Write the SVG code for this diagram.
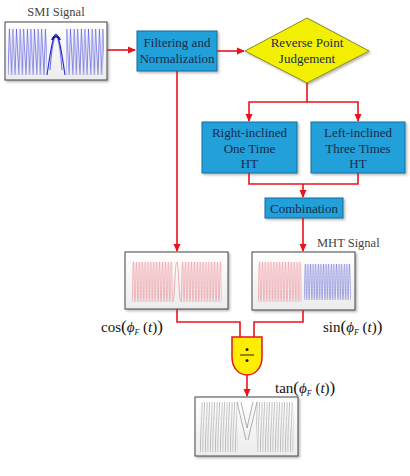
<svg xmlns="http://www.w3.org/2000/svg" width="410" height="476" viewBox="0 0 410 476">
<style>
.box{fill:#22a0da;stroke:#136d9a;stroke-width:1}
.wbox{fill:url(#wg);stroke:#444;stroke-width:1}
.t{font-family:"Liberation Serif",serif;font-size:13px;fill:#1b2b4b;text-anchor:middle}
.lab{font-family:"Liberation Serif",serif;font-size:12.5px;fill:#444}
.math{font-family:"Liberation Serif",serif;font-size:15px;fill:#111}
.con{fill:none;stroke:#e8141c;stroke-width:1.6}
</style>
<defs>
<marker id="ah" markerWidth="8" markerHeight="8" refX="7" refY="4" orient="auto" markerUnits="userSpaceOnUse">
<path d="M0,0.5 L8,4 L0,7.5 Z" fill="#e8141c"/>
</marker>
<filter id="sh" x="-10%" y="-10%" width="125%" height="130%">
<feDropShadow dx="1.5" dy="1.5" stdDeviation="1" flood-color="#000" flood-opacity="0.3"/>
</filter>
<linearGradient id="wg" x1="0" y1="0" x2="0" y2="1">
<stop offset="0" stop-color="#ffffff"/><stop offset="1" stop-color="#ececec"/>
</linearGradient>
<pattern id="pSmi" x="8" y="27" width="3.6" height="50" patternUnits="userSpaceOnUse">
<path d="M0,48 L1.3,2 L3.6,48" fill="none" stroke="#3a3ae0" stroke-width="0.6"/>
</pattern>
<pattern id="pRed" x="132" y="261" width="2.9" height="42" patternUnits="userSpaceOnUse">
<path d="M0,41 C0.72,41 0.72,1 1.45,1 C2.17,1 2.17,41 2.9,41" fill="none" stroke="#e8606e" stroke-width="0.45"/>
</pattern>
<pattern id="pRed2" x="258" y="261" width="2.9" height="42" patternUnits="userSpaceOnUse">
<path d="M0,41 C0.72,41 0.72,1 1.45,1 C2.17,1 2.17,41 2.9,41" fill="none" stroke="#e8606e" stroke-width="0.45"/>
</pattern>
<pattern id="pBlue" x="304" y="263" width="2.6" height="38" patternUnits="userSpaceOnUse">
<path d="M0,37 C0.65,37 0.65,1 1.3,1 C1.95,1 1.95,37 2.6,37" fill="none" stroke="#4040d0" stroke-width="0.45"/>
</pattern>
<pattern id="pTan" x="200" y="402" width="2.5" height="50" patternUnits="userSpaceOnUse">
<path d="M0.2,50 C0.6,30 1.4,20 2.2,0" fill="none" stroke="#808080" stroke-width="0.5"/>
</pattern>
</defs>

<g id="smi-signal">
<text class="lab" x="56" y="16" text-anchor="middle">SMI Signal</text>
<rect class="wbox" x="5" y="22" width="102" height="58" filter="url(#sh)"/>
<rect x="8" y="27" width="39" height="50" fill="url(#pSmi)"/>
<rect x="66" y="27" width="38" height="50" fill="url(#pSmi)"/>
<path d="M47,75 C50,55 53,34 56,34 C59,34 62,55 65,75" fill="none" stroke="#2a2ad0" stroke-width="1.1"/>
<path d="M50,70 C52,45 54,37 56,37 C58,37 60,45 62,70" fill="none" stroke="#2a2ad0" stroke-width="0.7"/>
<path d="M52,40 C54,35 58,35 60,40" fill="none" stroke="#1a1aa0" stroke-width="2"/>
</g>

<g id="filter">
<rect class="box" x="137" y="31" width="80" height="40" filter="url(#sh)"/>
<text class="t" x="177" y="47">Filtering and</text>
<text class="t" x="177" y="63">Normalization</text>
</g>

<g id="reverse">
<path d="M245,51 L307,18 L369,51 L307,83 Z" fill="#f2f000" stroke="#8a8a20" stroke-width="1" filter="url(#sh)"/>
<text class="t" x="307" y="47">Reverse Point</text>
<text class="t" x="307" y="63">Judgement</text>
</g>

<g id="right-ht">
<rect class="box" x="202" y="122" width="95" height="51" filter="url(#sh)"/>
<text class="t" x="249.5" y="137">Right-inclined</text>
<text class="t" x="249.5" y="153">One Time</text>
<text class="t" x="249.5" y="168">HT</text>
</g>

<g id="left-ht">
<rect class="box" x="311" y="122" width="94" height="51" filter="url(#sh)"/>
<text class="t" x="358" y="137">Left-inclined</text>
<text class="t" x="358" y="153">Three Times</text>
<text class="t" x="358" y="168">HT</text>
</g>

<g id="combination">
<rect class="box" x="265" y="198" width="78" height="20" filter="url(#sh)"/>
<text class="t" x="304" y="212.5">Combination</text>
</g>

<g id="cos-signal">
<rect class="wbox" x="125" y="252" width="103" height="57" filter="url(#sh)"/>
<rect x="132" y="261" width="40.6" height="42" fill="url(#pRed)"/>
<path d="M172.6,302 C174.8,302 174.8,262 176.8,262 C178.8,262 178.8,302 181,302" fill="none" stroke="#e8606e" stroke-width="0.5"/>
<rect x="181" y="261" width="40.6" height="42" fill="url(#pRed)"/>
<text class="math" x="101" y="332">cos<tspan font-size="17">(</tspan><tspan font-style="italic">ϕ</tspan><tspan font-size="8" dy="3" font-style="italic">F</tspan><tspan dy="-3"> (</tspan><tspan font-style="italic">t</tspan>)<tspan font-size="17">)</tspan></text>
</g>

<g id="mht-signal">
<text class="lab" x="317" y="247">MHT Signal</text>
<rect class="wbox" x="252" y="252" width="103" height="58" filter="url(#sh)"/>
<rect x="258" y="261" width="43.5" height="42" fill="url(#pRed2)"/>
<rect x="304" y="263" width="46.8" height="38" fill="url(#pBlue)"/>
<text class="math" x="323" y="332">sin<tspan font-size="17">(</tspan><tspan font-style="italic">ϕ</tspan><tspan font-size="8" dy="3" font-style="italic">F</tspan><tspan dy="-3"> (</tspan><tspan font-style="italic">t</tspan>)<tspan font-size="17">)</tspan></text>
</g>

<g id="divide">
<path d="M232,337 H262 V357 C262,368 255,375 247,375 C239,375 232,368 232,357 Z" fill="#ffee00" stroke="#e8141c" stroke-width="1.5"/>
<line x1="240" y1="355" x2="254" y2="355" stroke="#222" stroke-width="1"/>
<circle cx="247" cy="349.5" r="1.5" fill="#222"/>
<circle cx="247" cy="360.5" r="1.5" fill="#222"/>
</g>

<g id="tan-signal">
<text class="math" x="275" y="393">tan<tspan font-size="17">(</tspan><tspan font-style="italic">ϕ</tspan><tspan font-size="8" dy="3" font-style="italic">F</tspan><tspan dy="-3"> (</tspan><tspan font-style="italic">t</tspan>)<tspan font-size="17">)</tspan></text>
<rect class="wbox" x="195" y="397" width="103" height="59" filter="url(#sh)"/>
<rect x="200" y="402" width="37.5" height="50" fill="url(#pTan)"/>
<rect x="256" y="402" width="37.5" height="50" fill="url(#pTan)"/>
<path d="M237,402 L246,440 M241,402 L247,428 L253,402 M257,402 L248,440" fill="none" stroke="#808080" stroke-width="0.6"/>
</g>

<g id="connectors">
<path class="con" d="M107,50 H135" marker-end="url(#ah)"/>
<path class="con" d="M217,51 H244" marker-end="url(#ah)"/>
<path class="con" d="M307,83 V102 H249 V121" marker-end="url(#ah)"/>
<path class="con" d="M307,102 H358 V121" marker-end="url(#ah)"/>
<path class="con" d="M249,173 V184 H358 V173"/>
<path class="con" d="M303,184 V197" marker-end="url(#ah)"/>
<path class="con" d="M303,218 V251" marker-end="url(#ah)"/>
<path class="con" d="M177,71 V251" marker-end="url(#ah)"/>
<path class="con" d="M177,309 V322 H240 V337"/>
<path class="con" d="M303,310 V322 H254 V337"/>
<path class="con" d="M247,375 V396" marker-end="url(#ah)"/>
</g>
</svg>
